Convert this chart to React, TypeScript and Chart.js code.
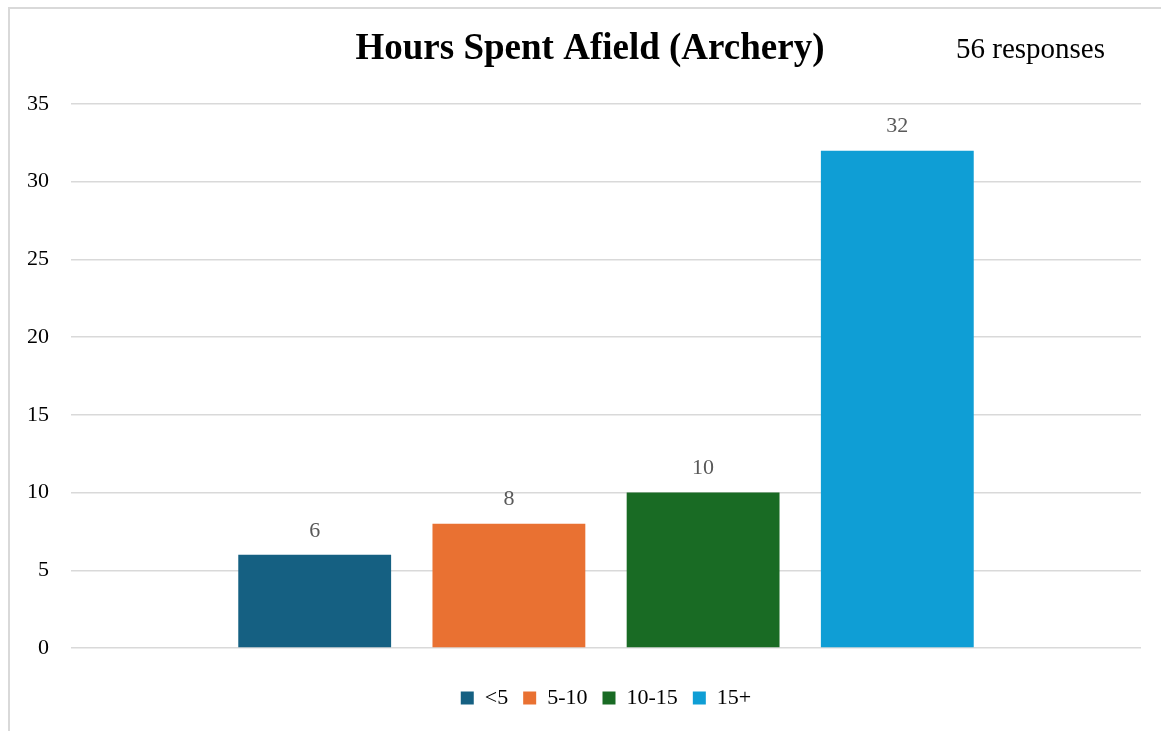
import React, { useEffect, useRef } from "react";
import { Chart, registerables } from "chart.js";

Chart.register(...registerables);

const categories = ["Hours"];
const seriesLabels = ["<5", "5-10", "10-15", "15+"];
const seriesValues = [6, 8, 10, 32];
const seriesColors = ["#156082", "#E97132", "#196B24", "#0F9ED5"];
const yTicks = [0, 5, 10, 15, 20, 25, 30, 35];
const titleText = "Hours Spent Afield (Archery)";
const responsesText = "56 responses";

const FONT = "'Liberation Serif', 'Times New Roman', serif";

const valueLabelPlugin = {
  id: "valueLabels",
  afterDatasetsDraw(chart: any) {
    const ctx = chart.ctx;
    ctx.save();
    ctx.font = `22px ${FONT}`;
    ctx.fillStyle = "#595959";
    ctx.textAlign = "center";
    ctx.textBaseline = "middle";
    chart.data.datasets.forEach((ds: any, i: number) => {
      const meta = chart.getDatasetMeta(i);
      meta.data.forEach((bar: any, j: number) => {
        ctx.fillText(String(ds.data[j]), bar.x, bar.y - 24);
      });
    });
    ctx.restore();
  },
};

const headerPlugin = {
  id: "header",
  afterDraw(chart: any) {
    const ctx = chart.ctx;
    ctx.save();
    ctx.fillStyle = "#000000";
    ctx.textBaseline = "middle";
    ctx.font = `bold 37px ${FONT}`;
    ctx.textAlign = "center";
    ctx.fillText(titleText, 580, 40);
    ctx.font = `29px ${FONT}`;
    ctx.textAlign = "left";
    ctx.fillText(responsesText, 946, 41);
    ctx.restore();
  },
};

export default function App() {
  const ref = useRef<HTMLCanvasElement | null>(null);

  useEffect(() => {
    if (!ref.current) return;
    Chart.defaults.font.family = FONT;
    const chart = new Chart(ref.current, {
      type: "bar",
      data: {
        labels: categories,
        datasets: seriesLabels.map((lbl, i) => ({
          label: lbl,
          data: [seriesValues[i]],
          backgroundColor: seriesColors[i],
          borderWidth: 0,
          categoryPercentage: 0.726,
          barPercentage: 0.787,
        })),
      },
      options: {
        responsive: false,
        animation: false,
        layout: { padding: { left: 0, right: 29, top: 95, bottom: 21 } },
        plugins: {
          title: { display: false },
          legend: {
            position: "bottom",
            fullSize: false,
            labels: {
              boxWidth: 13,
              boxHeight: 13,
              padding: 15,
              color: "#000000",
              font: { family: FONT, size: 22 },
            },
          },
          tooltip: { enabled: false },
        },
        scales: {
          x: {
            display: true,
            grid: { display: false },
            border: { display: false },
            ticks: { display: false },
            afterFit: (axis: any) => {
              axis.height = 24;
            },
          },
          y: {
            min: 0,
            max: 35,
            afterBuildTicks: (axis: any) => {
              axis.ticks = yTicks.map((v) => ({ value: v }));
            },
            grid: { color: "#d9d9d9", lineWidth: 1.5, drawTicks: false },
            border: { display: false },
            ticks: {
              padding: 22,
              color: "#000000",
              font: { family: FONT, size: 22 },
            },
            afterFit: (axis: any) => {
              axis.width = 61;
            },
          },
        },
      },
      plugins: [valueLabelPlugin, headerPlugin],
    });
    return () => chart.destroy();
  }, []);

  return (
    <div style={{ position: "fixed", inset: 0, overflow: "hidden", background: "#ffffff" }}>
      <div
        style={{
          position: "absolute",
          left: 8,
          top: 7,
          width: 1162,
          height: 733,
          border: "2px solid #d9d9d9",
        }}
      >
        <canvas ref={ref} width={1160} height={731} style={{ display: "block", width: 1160, height: 731 }} />
      </div>
    </div>
  );
}
